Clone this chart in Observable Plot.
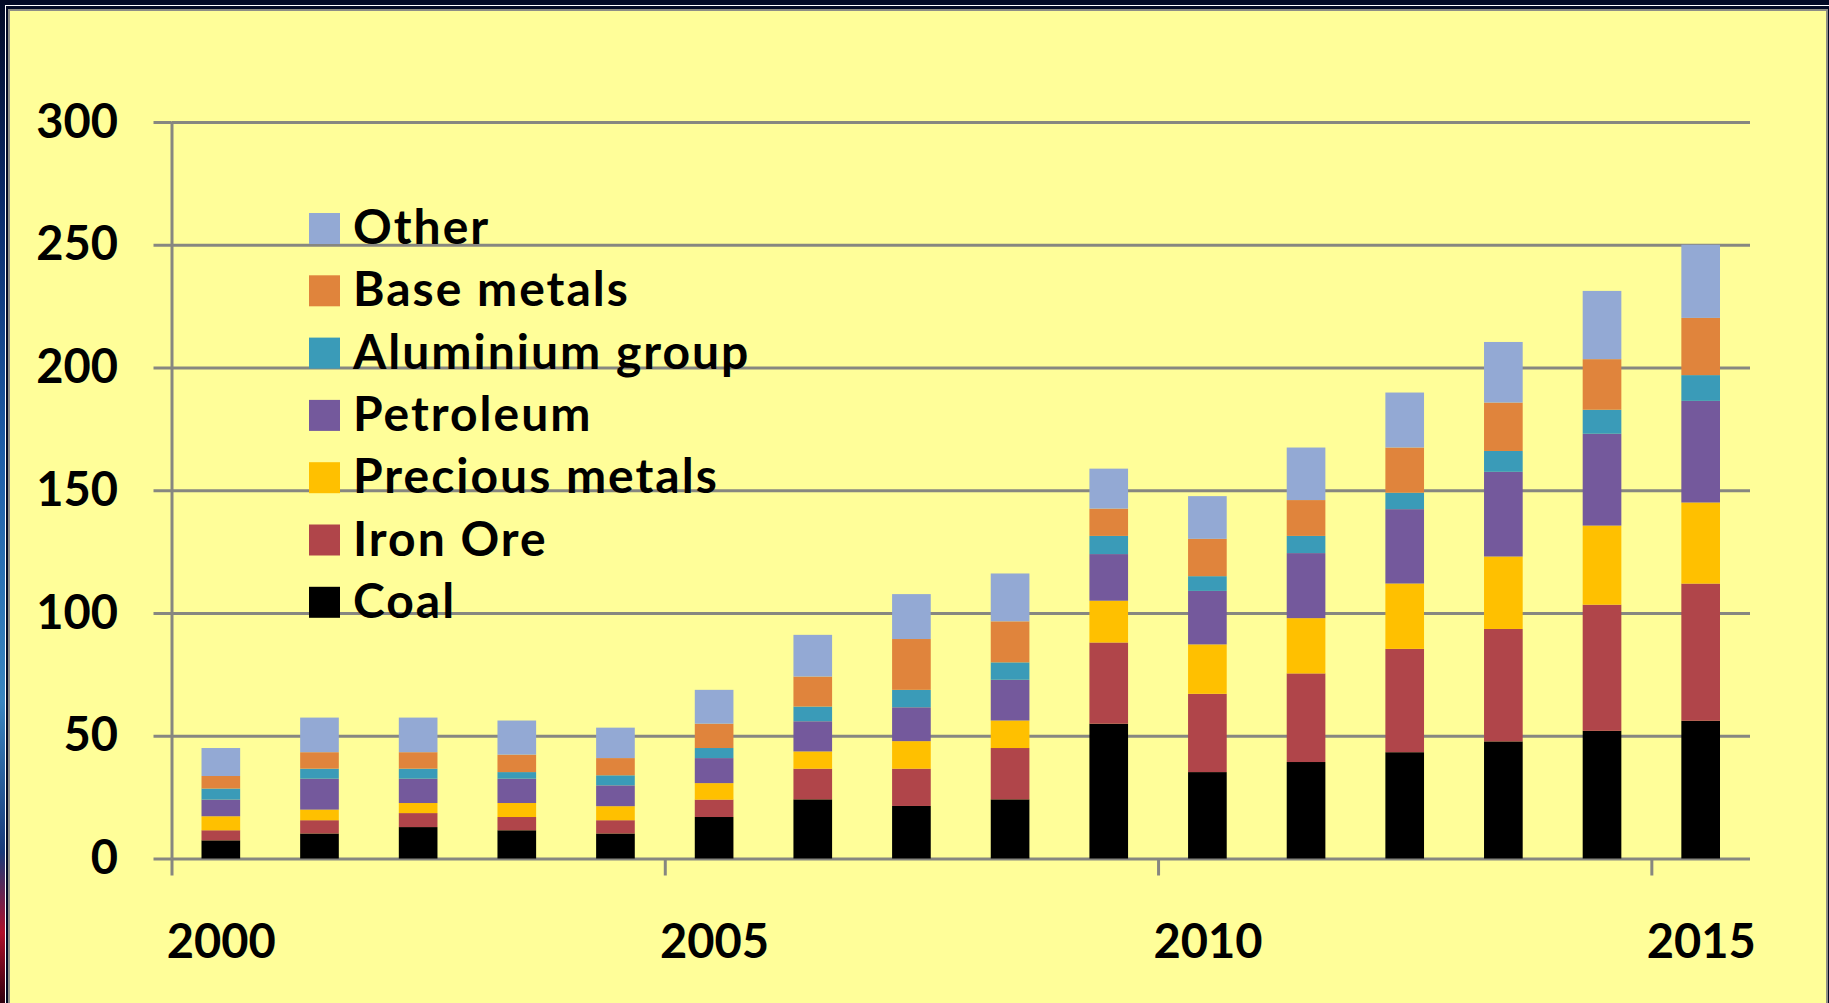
<!DOCTYPE html>
<html>
<head>
<meta charset="utf-8">
<script src="https://cdn.jsdelivr.net/npm/d3@7"></script>
<script src="https://cdn.jsdelivr.net/npm/@observablehq/plot@0.6"></script>
<style>
  html, body { margin: 0; padding: 0; width: 1829px; height: 1003px; overflow: hidden; background: #030a26; }
  #edge { position: absolute; left: 0; top: 0; width: 6px; height: 1003px;
    background: linear-gradient(to bottom, #030a26 0%, #0b2a6a 20%, #1f5ea8 45%, #3b86c0 70%, #1a3a7a 85%, #b0102a 93%, #300010 100%); }
  #frame { position: absolute; left: 5px; top: 5px; width: 1830px; height: 1010px; border: 1.5px solid #ffffff; box-sizing: border-box; }
  #panel { position: absolute; left: 8px; top: 9px; width: 1820px; height: 1010px; box-sizing: border-box;
    border: 2.5px solid #8e8e86; background: #fffe99; }
  #chart, #legend { position: absolute; left: 0; top: 0; }
  svg { overflow: visible; }
</style>
</head>
<body>
<div id="edge"></div>
<div id="frame"></div>
<div id="panel"></div>
<div id="chart"></div>
<svg id="legend" width="1829" height="1003"></svg>
<script>
// ---- data ----
const years = [2000, 2001, 2002, 2003, 2004, 2005, 2006, 2007, 2008, 2009, 2010, 2011, 2012, 2013, 2014, 2015];
const coal       = [7.4, 10.2, 12.8, 11.5, 10.2, 16.9, 24.1, 21.4, 24.1, 54.9, 35.2, 39.3, 43.3, 47.7, 52.0, 56.1];
const ironOre    = [4.1, 5.4, 5.7, 5.4, 5.4, 7.1, 12.5, 15.2, 20.9, 33.1, 31.9, 36.1, 42.1, 45.8, 51.4, 55.9];
const precious   = [5.7, 4.3, 4.1, 5.7, 5.7, 6.7, 7.0, 11.2, 11.2, 17.0, 20.1, 22.5, 26.6, 29.5, 32.2, 33.0];
const petroleum  = [6.8, 12.6, 9.9, 9.9, 8.5, 10.2, 12.3, 13.8, 16.6, 19.0, 21.8, 26.5, 30.3, 34.5, 37.4, 41.4];
const aluminium  = [4.5, 4.1, 4.1, 2.7, 4.1, 4.1, 6.0, 7.1, 7.1, 7.4, 6.0, 7.0, 6.7, 8.5, 9.8, 10.5];
const baseMetals = [5.1, 6.7, 6.7, 7.1, 7.0, 9.9, 12.2, 20.7, 16.7, 11.1, 15.2, 14.6, 18.4, 19.7, 20.6, 23.3];
const other      = [11.4, 14.1, 14.1, 13.9, 12.4, 13.8, 17.0, 18.3, 19.5, 16.3, 17.4, 21.4, 22.4, 24.7, 27.8, 29.8];

// stacking order: bottom to top
const seriesNames  = ["Coal", "Iron Ore", "Precious metals", "Petroleum", "Aluminium group", "Base metals", "Other"];
const seriesValues = [coal, ironOre, precious, petroleum, aluminium, baseMetals, other];
const seriesColors = ["#000000", "#b0454a", "#ffc000", "#74599c", "#3a9bb8", "#e0843c", "#93a9d4"];

const yTicks = [0, 50, 100, 150, 200, 250, 300];
const xTickYears = [2000, 2005, 2010, 2015];

// long table for Plot
const rows = [];
seriesNames.forEach((s, i) => years.forEach((y, j) => rows.push({year: y, series: s, value: seriesValues[i][j]})));

const W = 1829, H = 1003;
const grey = "#878780";
const font = "Lato, 'Open Sans', sans-serif";

const chart = Plot.plot({
  width: W, height: H,
  marginLeft: 171.5, marginRight: 79, marginTop: 122, marginBottom: 144.5,
  style: {background: "transparent", fontFamily: font, overflow: "visible"},
  x: {type: "linear", domain: [2000, 2016], axis: null},
  y: {domain: [0, 300], axis: null},
  color: {domain: seriesNames, range: seriesColors},
  marks: [
    Plot.gridY(yTicks, {stroke: grey, strokeOpacity: 1, strokeWidth: 3}),
    Plot.axisY({ticks: yTicks, tickSize: 18, tickPadding: 36, stroke: grey, strokeWidth: 3,
                fill: "#000", fontSize: 47, fontWeight: "bold", label: null, tickFormat: d => String(d)}),
    Plot.rectY(rows, {x: "year", interval: 1, y: "value", fill: "series", insetLeft: 30, insetRight: 30}),
    Plot.ruleX([2000], {stroke: grey, strokeWidth: 3}),
    Plot.axisX({ticks: xTickYears, tickSize: 17, stroke: grey, strokeWidth: 3, tickFormat: () => "", label: null}),
    Plot.text(xTickYears, {x: d => d + 0.5, text: d => String(d), frameAnchor: "bottom", dy: 84, lineAnchor: "middle",
                           fontSize: 47, fontWeight: "bold", fill: "#000"})
  ]
});
document.getElementById("chart").appendChild(chart);

// legend (top to bottom: reverse of stacking order)
const legendItems = seriesNames.map((n, i) => ({name: n, color: seriesColors[i]})).reverse();
const lg = d3.select("#legend");
const g = lg.selectAll("g").data(legendItems).join("g")
  .attr("transform", (d, i) => `translate(309, ${213 + i * 62.3})`);
g.append("rect").attr("width", 31).attr("height", 31).attr("fill", d => d.color);
g.append("text").attr("x", 44).attr("y", 31).text(d => d.name)
  .attr("font-family", font).attr("font-weight", "bold").attr("font-size", 48)
  .attr("letter-spacing", "2px").attr("fill", "#000");
</script>
</body>
</html>
